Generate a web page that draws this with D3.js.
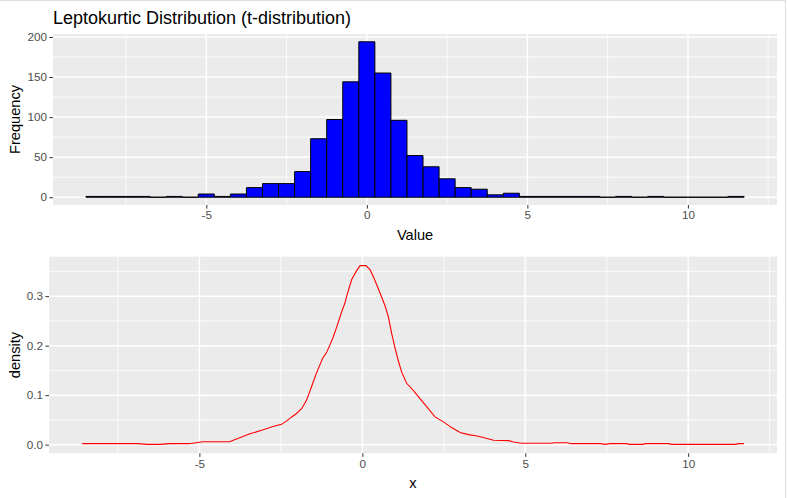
<!DOCTYPE html>
<html>
<head>
<meta charset="utf-8">
<style>
 body { margin: 0; background: #fff; }
 svg { font-family: "Liberation Sans", Arial, sans-serif; display: block; }
 .tick text { fill: #4d4d4d; font-size: 11.7px; }
 .tick line { stroke: #333; }
 .domain { display: none; }
</style>
</head>
<body>
<svg width="787" height="498"></svg>
<script src="https://d3js.org/d3.v7.min.js"></script>
<script>

// histogram: bin centres (binwidth 0.5) and counts
var binWidth = 0.5;
var binMids = [-8.5, -8, -7.5, -7, -6.5, -6, -5.5, -5, -4.5, -4, -3.5, -3, -2.5, -2, -1.5, -1, -0.5,
               0, 0.5, 1, 1.5, 2, 2.5, 3, 3.5, 4, 4.5, 5, 5.5, 6, 6.5, 7, 7.5, 8, 8.5, 9, 9.5, 10, 10.5, 11, 11.5];
var counts = [1, 1, 1, 1, 0, 1, 0, 4, 1, 4, 12, 17, 17, 32, 73, 97, 144,
              194, 155, 96, 52, 38, 23, 12, 10, 3, 5, 1, 1, 1, 1, 1, 0, 1, 0, 1, 0, 0, 0, 0, 1];

// density curve points
var densX = [-8.6, -7.8, -6.9, -6.6, -6.2, -5.9, -5.33, -5.1, -4.9, -4.07, -3.96, -3.76, -3.45, -3.04, -2.74,
             -2.48, -2.32, -2.17, -2.02, -1.86, -1.71, -1.56, -1.4, -1.22, -1.09, -0.99, -0.89, -0.79, -0.63,
             -0.53, -0.48, -0.33, -0.17, -0.07, 0.11, 0.24, 0.36, 0.54, 0.7, 0.8, 0.9, 1.0, 1.11, 1.21, 1.36,
             1.57, 1.77, 1.98, 2.23, 2.49, 2.75, 3.0, 3.26, 3.52, 3.77, 4.03, 4.49, 4.64, 4.9, 5.8, 5.9, 6.3,
             6.4, 7.3, 7.45, 7.6, 8.1, 8.2, 8.6, 8.7, 9.4, 9.5, 11.45, 11.55, 11.71];
var densY = [0.002, 0.002, 0.002, 0.0006, 0.0006, 0.002, 0.002, 0.004, 0.006, 0.006, 0.009, 0.014, 0.022, 0.030, 0.0365,
             0.041, 0.048, 0.056, 0.063, 0.073, 0.090, 0.117, 0.146, 0.174, 0.187, 0.202, 0.218, 0.237, 0.269,
             0.287, 0.300, 0.333, 0.352, 0.3616, 0.3616, 0.353, 0.336, 0.307, 0.280, 0.258, 0.225, 0.196, 0.168, 0.146, 0.124,
             0.109, 0.093, 0.0765, 0.056, 0.046, 0.034, 0.0244, 0.0203, 0.0176, 0.0135, 0.0088, 0.0081, 0.0054, 0.0027, 0.0027, 0.004, 0.004,
             0.002, 0.002, 0.0006, 0.002, 0.002, 0.0006, 0.0006, 0.002, 0.002, 0.0006, 0.0006, 0.002, 0.002];

var histYTicks = [0, 50, 100, 150, 200];
var histYMinor = [25, 75, 125, 175];
var xTicks = [-5, 0, 5, 10];
var xMinor = [-7.5, -2.5, 2.5, 7.5, 12.5];
var densYTicks = [0, 0.1, 0.2, 0.3];
var densYMinor = [0.05, 0.15, 0.25, 0.35];

var svg = d3.select("svg");

// light frame of the screenshot
svg.append("line").attr("x1", 0).attr("x2", 786).attr("y1", 0.5).attr("y2", 0.5).attr("stroke", "#d9dede");
svg.append("line").attr("x1", 785.5).attr("x2", 785.5).attr("y1", 0).attr("y2", 498).attr("stroke", "#d9dede");

function expand(ext) {
    var r = ext[1] - ext[0];
    return [ext[0] - 0.05 * r, ext[1] + 0.05 * r];
}

function panel(box, x, y, xt, xm, yt, ym, yfmt) {
    var g = svg.append("g");
    g.append("rect")
        .attr("x", box.left).attr("y", box.top)
        .attr("width", box.right - box.left).attr("height", box.bottom - box.top)
        .attr("fill", "#ebebeb");
    g.selectAll(".vmin").data(xm.filter(function(d){ return x(d) > box.left && x(d) < box.right; }))
        .enter().append("line")
        .attr("x1", x).attr("x2", x).attr("y1", box.top).attr("y2", box.bottom)
        .attr("stroke", "#fff").attr("stroke-width", 0.8);
    g.selectAll(".hmin").data(ym.filter(function(d){ return y(d) > box.top; }))
        .enter().append("line")
        .attr("y1", y).attr("y2", y).attr("x1", box.left).attr("x2", box.right)
        .attr("stroke", "#fff").attr("stroke-width", 0.8);
    g.selectAll(".vmaj").data(xt).enter().append("line")
        .attr("x1", x).attr("x2", x).attr("y1", box.top).attr("y2", box.bottom)
        .attr("stroke", "#fff").attr("stroke-width", 1.5);
    g.selectAll(".hmaj").data(yt).enter().append("line")
        .attr("y1", y).attr("y2", y).attr("x1", box.left).attr("x2", box.right)
        .attr("stroke", "#fff").attr("stroke-width", 1.5);

    svg.append("g")
        .attr("transform", "translate(0," + box.bottom + ")")
        .call(d3.axisBottom(x).tickValues(xt).tickSize(3.6).tickPadding(2.5).tickFormat(d3.format("d")))
        .call(function(a){ a.selectAll("text").text(function(d){ return d < 0 ? "-" + Math.abs(d) : d; }); });
    svg.append("g")
        .attr("transform", "translate(" + box.left + ",0)")
        .call(d3.axisLeft(y).tickValues(yt).tickSize(3.6).tickPadding(2.5).tickFormat(yfmt));
}

// ---- top panel: histogram ----
var topBox = {left: 53, right: 777, top: 34, bottom: 205};
var x1 = d3.scaleLinear()
    .domain(expand([d3.min(binMids) - binWidth / 2, d3.max(binMids) + binWidth / 2]))
    .range([topBox.left, topBox.right]);
var y1 = d3.scaleLinear()
    .domain(expand([0, d3.max(counts)]))
    .range([topBox.bottom, topBox.top]);

panel(topBox, x1, y1, xTicks, xMinor, histYTicks, histYMinor, d3.format("d"));

// bars as closed paths so empty bins still show their outline on the baseline
svg.append("g").selectAll("path")
    .data(binMids)
    .enter().append("path")
    .attr("d", function(d, i){
        var xa = x1(d - binWidth / 2), xb = x1(d + binWidth / 2);
        var ya = y1(0), yb = y1(counts[i]);
        return "M" + xa + "," + ya + "H" + xb + "V" + yb + "H" + xa + "Z";
    })
    .attr("fill", "#0000ff")
    .attr("stroke", "#000")
    .attr("stroke-width", 1);

svg.append("text")
    .attr("x", topBox.left).attr("y", 24)
    .attr("font-size", "18px").attr("fill", "#000")
    .text("Leptokurtic Distribution (t-distribution)");
svg.append("text")
    .attr("x", (topBox.left + topBox.right) / 2).attr("y", 240)
    .attr("text-anchor", "middle").attr("font-size", "14.6px")
    .text("Value");
svg.append("text")
    .attr("transform", "translate(20," + ((topBox.top + topBox.bottom) / 2) + ") rotate(-90)")
    .attr("text-anchor", "middle").attr("font-size", "14.6px")
    .text("Frequency");

// ---- bottom panel: density ----
var botBox = {left: 49, right: 777, top: 256.7, bottom: 453.3};
var x2 = d3.scaleLinear()
    .domain(expand(d3.extent(densX)))
    .range([botBox.left, botBox.right]);
var y2 = d3.scaleLinear()
    .domain(expand(d3.extent(densY)))
    .range([botBox.bottom, botBox.top]);

panel(botBox, x2, y2, xTicks, xMinor, densYTicks, densYMinor, d3.format(".1f"));

var line = d3.line()
    .x(function(d, i){ return x2(densX[i]); })
    .y(function(d, i){ return y2(densY[i]); });

svg.append("path")
    .datum(densX)
    .attr("d", line)
    .attr("fill", "none")
    .attr("stroke", "#ff0000")
    .attr("stroke-width", 1.1);

svg.append("text")
    .attr("x", (botBox.left + botBox.right) / 2).attr("y", 488)
    .attr("text-anchor", "middle").attr("font-size", "14.6px")
    .text("x");
svg.append("text")
    .attr("transform", "translate(20," + ((botBox.top + botBox.bottom) / 2) + ") rotate(-90)")
    .attr("text-anchor", "middle").attr("font-size", "14.6px")
    .text("density");

</script>
</body>
</html>
